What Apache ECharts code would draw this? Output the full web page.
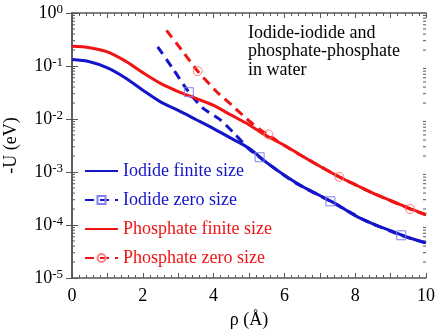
<!DOCTYPE html>
<html>
<head>
<meta charset="utf-8">
<script src="https://cdn.jsdelivr.net/npm/echarts@6/dist/echarts.min.js"></script>
<style>
html,body{margin:0;padding:0;background:#fff;}
#chart{width:436px;height:332px;}
</style>
</head>
<body>
<div id="chart"></div>
<script>
//数据
var seriesNames=['Iodide finite size','Iodide zero size','Phosphate finite size','Phosphate zero size'];
var iodideFinite=[[0,0.132],[0.5,0.12],[1.0,0.092],[1.5,0.06],[2.0,0.035],[2.5,0.021],[3.0,0.0145],[3.5,0.0098],[4.0,0.0066],[4.5,0.0043],[5.0,0.0028],[5.5,0.0015],[6.0,8.7e-4],[6.5,5.4e-4],[7.0,3.6e-4],[7.5,2.4e-4],[8.0,1.5e-4],[8.5,1.05e-4],[9.0,7.8e-5],[9.5,5.8e-5],[10,4.6e-5]];
var iodideZero=[[2.42,0.23],[2.86,0.087],[3.3,0.032],[3.7,0.016],[4.2,0.0095],[4.6,0.0052],[5.0,0.0027],[5.3,0.0019],[5.7,0.0012],[6.3,6.3e-4],[7.3,2.8e-4],[8.3,1.2e-4],[9.3,6.4e-5],[10,4.6e-5]];
var phosFinite=[[0,0.235],[0.5,0.222],[1.0,0.185],[1.5,0.125],[2.0,0.075],[2.5,0.047],[3.0,0.033],[3.5,0.0245],[4.0,0.018],[4.5,0.0118],[5.0,0.0078],[5.5,0.0048],[6.0,0.0032],[6.5,0.002],[7.0,0.00128],[7.5,8.4e-4],[8.0,5.8e-4],[8.5,4.0e-4],[9.0,2.9e-4],[9.5,2.1e-4],[10,1.56e-4]];
var phosZero=[[2.67,0.47],[3.1,0.2],[3.55,0.08],[4.1,0.032],[4.5,0.0186],[4.94,0.01],[5.35,0.006],[5.55,0.0051],[5.8,0.0038],[6.5,0.002],[7.55,8.1e-4],[8.5,4.0e-4],[9.55,2.0e-4],[10,1.56e-4]];
var iodideMarkX=[3.3,5.3,7.3,9.3];
var phosMarkX=[3.55,5.55,7.55,9.55];
var noteText='Iodide-iodide and\nphosphate-phosphate\nin water';
//对数轴次刻度 2..9
var yMinorTicks=[];
for(var e=-5;e<0;e++){for(var m=2;m<10;m++){yMinorTicks.push(m*Math.pow(10,e));}}
//样式
var blue='#1414c8',red='#f01414';
var serif='Liberation Serif';
function withMarks(arr,markX){
	return arr.map(function(p){
		return markX.indexOf(p[0])>=0?{value:p}:{value:p,symbol:'none'};
	});
}
var axisLineStyle={color:'#555',width:1.5};
var chart=echarts.init(document.getElementById('chart'));
var option={
	animation:false,
	backgroundColor:'#fff',
	title:{
		text:noteText,left:243,top:19,
		textStyle:{fontFamily:serif,fontSize:18,fontWeight:'normal',color:'#000',lineHeight:18.5}
	},
	legend:{
		orient:'vertical',left:79,top:157,itemWidth:33,itemHeight:10,itemGap:11,
		textStyle:{fontFamily:serif,fontSize:18},
		data:[
			{name:seriesNames[0],textStyle:{color:blue},itemStyle:{opacity:0}},
			{name:seriesNames[1],textStyle:{color:blue}},
			{name:seriesNames[2],textStyle:{color:red},itemStyle:{opacity:0}},
			{name:seriesNames[3],textStyle:{color:red}}
		]
	},
	grid:{left:72,right:10,top:13,bottom:54,outerBoundsMode:'none',containLabel:false},
	xAxis:[{
		type:'value',min:0,max:10,interval:1,position:'bottom',
		name:'ρ (Å)',nameLocation:'middle',nameGap:33,
		nameTextStyle:{fontFamily:serif,fontSize:18,color:'#000'},
		axisLine:{lineStyle:axisLineStyle},
		axisTick:{inside:true,length:5,lineStyle:{color:'#555'}},
		minorTick:{show:true,splitNumber:5,length:3,lineStyle:{color:'#555'}},
		splitLine:{show:false},
		axisLabel:{fontFamily:serif,fontSize:18,color:'#000',margin:9,
			formatter:function(v){return v%2===0?String(v):'';}}
	},{
		type:'value',min:0,max:10,interval:1,position:'top',
		axisLine:{lineStyle:axisLineStyle},
		axisTick:{inside:true,length:5,lineStyle:{color:'#555'}},
		minorTick:{show:true,splitNumber:5,length:3,lineStyle:{color:'#555'}},
		splitLine:{show:false},axisLabel:{show:false}
	}],
	yAxis:[{
		type:'log',logBase:10,min:1e-5,max:1,position:'left',
		name:'-U (eV)',nameLocation:'middle',nameGap:52,
		nameTextStyle:{fontFamily:serif,fontSize:18,color:'#000'},
		axisLine:{lineStyle:axisLineStyle},
		axisTick:{inside:true,length:6,lineStyle:{color:'#555'}},
		splitLine:{show:false},
		axisLabel:{margin:9,
			formatter:function(v){return '{b|10}{s|'+Math.round(Math.log10(v))+'}';},
			rich:{
				b:{fontFamily:serif,fontSize:18,color:'#000',verticalAlign:'bottom'},
				s:{fontFamily:serif,fontSize:13,color:'#000',verticalAlign:'top',padding:[0,0,6,0]}
			}
		}
	},{
		type:'log',logBase:10,min:1e-5,max:1,position:'right',
		axisLine:{lineStyle:axisLineStyle},
		axisTick:{inside:true,length:6,lineStyle:{color:'#555'}},
		splitLine:{show:false},axisLabel:{show:false}
	}],
	series:[{
		name:seriesNames[0],type:'line',data:iodideFinite,smooth:0.3,showSymbol:false,symbol:'none',
		lineStyle:{color:blue,width:3},itemStyle:{color:blue}
	},{
		name:seriesNames[1],type:'line',data:withMarks(iodideZero,iodideMarkX),smooth:0.2,
		symbol:'rect',symbolSize:9,
		lineStyle:{color:blue,width:3,type:[9,6]},
		itemStyle:{color:'rgba(0,0,0,0)',borderColor:'#8080f0',borderWidth:1}
	},{
		name:seriesNames[2],type:'line',data:phosFinite,smooth:0.3,showSymbol:false,symbol:'none',
		lineStyle:{color:red,width:3},itemStyle:{color:red}
	},{
		name:seriesNames[3],type:'line',data:withMarks(phosZero,phosMarkX),smooth:0.2,
		symbol:'circle',symbolSize:9,
		lineStyle:{color:red,width:3,type:[9,6]},
		itemStyle:{color:'rgba(0,0,0,0)',borderColor:'#ff8080',borderWidth:1}
	},{
		//左右两侧对数次刻度
		type:'custom',silent:true,z:1,
		data:yMinorTicks,
		renderItem:function(params,api){
			var l=api.coord([0,api.value(0)]);
			var r=api.coord([10,api.value(0)]);
			var st={stroke:'#555',lineWidth:1};
			return {type:'group',children:[
				{type:'line',shape:{x1:l[0],y1:l[1],x2:l[0]+3,y2:l[1]},style:st},
				{type:'line',shape:{x1:r[0]-3,y1:r[1],x2:r[0],y2:r[1]},style:st}
			]};
		},
		encode:{y:0}
	}]
};
chart.setOption(option);
</script>
</body>
</html>
